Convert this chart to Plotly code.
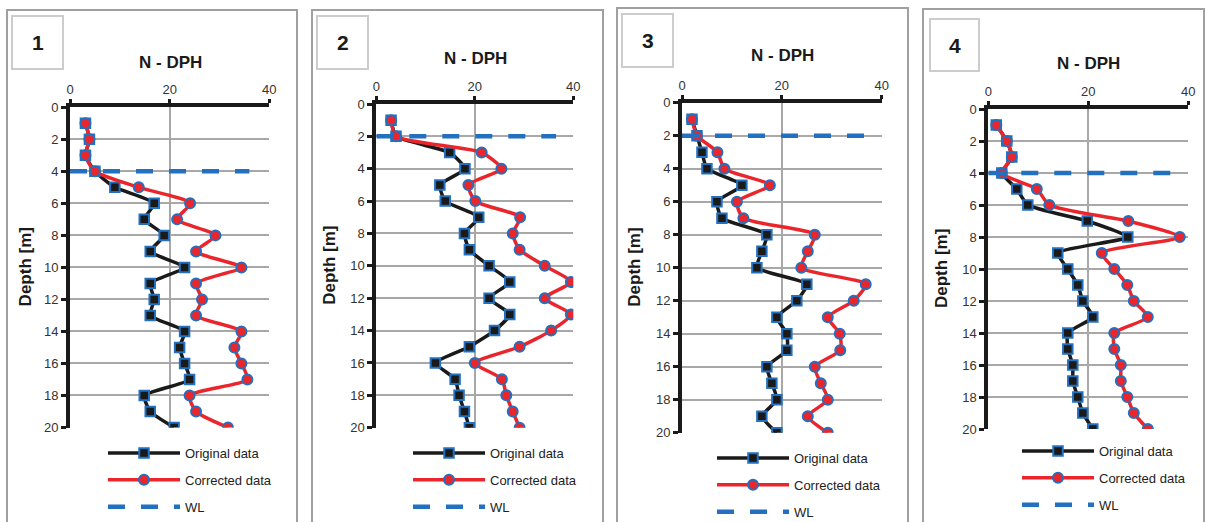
import plotly.graph_objects as go

# ---------------- data ----------------
depth = list(range(1, 21))
x_ticks = [0, 20, 40]
y_ticks = list(range(0, 21, 2))
panel_labels = ["1", "2", "3", "4"]

p1_original = [3.1, 3.9, 3.1, 5.0, 9.0, 16.9, 14.9, 18.9, 16.1, 23.0,
               16.1, 16.9, 16.1, 23.0, 22.0, 23.0, 24.0, 14.9, 16.1, 20.9]
p1_corrected = [3.1, 3.9, 3.1, 5.0, 13.8, 24.1, 21.5, 29.2, 25.3, 34.4,
                25.3, 26.5, 25.3, 34.4, 33.0, 34.4, 35.6, 24.0, 25.3, 31.7]

p2_original = [3.0, 4.0, 14.9, 18.0, 12.9, 14.0, 20.8, 17.9, 18.9, 22.9,
               27.1, 22.9, 27.1, 24.0, 18.9, 12.0, 16.0, 16.8, 17.9, 18.9]
p2_corrected = [3.0, 4.0, 21.4, 25.4, 18.7, 20.1, 29.2, 27.7, 29.1, 34.2,
                39.5, 34.2, 39.5, 35.5, 29.1, 20.0, 25.5, 26.4, 27.7, 29.1]

p3_original = [2.0, 3.0, 4.0, 5.0, 12.0, 7.0, 8.0, 17.0, 16.0, 15.0,
               25.0, 23.0, 19.0, 21.0, 21.0, 17.0, 18.0, 19.0, 16.0, 19.0]
p3_corrected = [2.0, 3.0, 7.1, 8.5, 17.6, 11.0, 12.3, 26.6, 25.2, 23.9,
                36.8, 34.4, 29.2, 31.6, 31.7, 26.6, 27.8, 29.2, 25.2, 29.2]

p4_original = [1.6, 3.7, 4.7, 2.7, 5.7, 7.9, 19.8, 27.9, 13.9, 15.9,
               17.9, 18.9, 20.9, 15.9, 15.9, 16.9, 16.9, 17.9, 18.9, 20.9]
p4_corrected = [1.6, 3.7, 4.7, 2.7, 9.7, 12.2, 28.0, 38.3, 22.7, 25.2,
                27.8, 29.1, 31.9, 25.2, 25.2, 26.5, 26.5, 27.8, 29.1, 31.9]

wl_depth = [4, 2, 2, 4]
wl_n_start = [0, 0, 0, 0]
wl_n_end = [36, 36.5, 38, 38.3]

originals = [p1_original, p2_original, p3_original, p4_original]
correcteds = [p1_corrected, p2_corrected, p3_corrected, p4_corrected]

# ---------------- layout geometry (pixels) ----------------
W, H = 1207, 522
FONT = "Arial, Liberation Sans, sans-serif"
BLACK = "#1a1a1a"
RED = "#ea252b"
BLUE = "#2270bf"
GRID = "#a8a8a8"

plot_px = [  # x0, x1, y0, y1 of plotting area
    (70, 269.3, 107.3, 427.5),
    (376.3, 573.3, 104, 427.7),
    (682, 881.7, 102.7, 432.7),
    (988.3, 1188.3, 109, 429),
]
box_px = [(7, 297, 10), (312, 603, 10), (617, 908, 8), (923, 1204, 9)]
numbox_px = [(12, 63, 16, 69), (317, 368, 16, 69), (622, 673, 14, 67), (930, 979, 19, 71)]
title_px = [(170, 62), (475, 58), (782, 55), (1088, 63)]
depth_title_x = [25, 330, 635, 941]
legend_px = [(103, 438), (408, 438), (712, 443), (1017, 436)]


def px(x):
    return x / W


def py(y):
    return 1 - y / H


fig = go.Figure()
shapes = []
annotations = []
layout_axes = {}

for i in range(4):
    n = i + 1
    sfx = "" if n == 1 else str(n)
    xa, ya = "x" + sfx, "y" + sfx
    leg = "legend" + sfx
    x0, x1, y0, y1 = plot_px[i]

    fig.add_trace(go.Scatter(
        x=originals[i], y=depth, xaxis=xa, yaxis=ya, mode="lines+markers",
        name="Original data", legend=leg, legendgroup=f"o{n}",
        line=dict(color=BLACK, width=3.5, shape="spline", smoothing=0.5),
        marker=dict(symbol="square", size=9.5, color=BLACK, line=dict(color=BLUE, width=2)),
    ))
    fig.add_trace(go.Scatter(
        x=correcteds[i], y=depth, xaxis=xa, yaxis=ya, mode="lines+markers",
        name="Corrected data", legend=leg, legendgroup=f"c{n}",
        line=dict(color=RED, width=3.5, shape="spline", smoothing=0.6),
        marker=dict(symbol="circle", size=10, color=RED, line=dict(color=BLUE, width=2)),
    ))
    fig.add_trace(go.Scatter(
        x=[wl_n_start[i], wl_n_end[i]], y=[wl_depth[i], wl_depth[i]],
        xaxis=xa, yaxis=ya, mode="lines", name="WL", legend=leg, legendgroup=f"w{n}",
        line=dict(color=BLUE, width=4.5, dash="17px,16px"),
    ))

    layout_axes["xaxis" + sfx] = dict(
        domain=[px(x0), px(x1)], range=[0, 40], side="top", anchor=ya,
        tickvals=x_ticks, showgrid=True, gridcolor=GRID, gridwidth=1.5,
        showline=True, linecolor=BLACK, linewidth=4, zeroline=False,
        ticks="outside", ticklen=4, tickwidth=3, tickcolor=BLACK,
        tickfont=dict(family=FONT, size=13, color="#333333"),
    )
    layout_axes["yaxis" + sfx] = dict(
        domain=[py(y1), py(y0)], range=[20, 0], anchor=xa,
        tickvals=y_ticks, showgrid=True, gridcolor=GRID, gridwidth=1.5,
        showline=True, linecolor=BLACK, linewidth=4, zeroline=False,
        ticks="outside", ticklen=5, tickwidth=3, tickcolor=BLACK,
        tickfont=dict(family=FONT, size=13, color="#333333"),
    )

    lx, ly = legend_px[i]
    layout_axes[leg] = dict(
        x=px(lx), y=py(ly), xanchor="left", yanchor="top",
        font=dict(family=FONT, size=13, color="#222222"),
        bgcolor="rgba(0,0,0,0)", tracegroupgap=7, itemwidth=72,
        traceorder="grouped",
    )

    bx0, bx1, by0 = box_px[i]
    shapes.append(dict(type="rect", xref="paper", yref="paper",
                       x0=px(bx0), x1=px(bx1), y0=py(by0), y1=-0.05,
                       line=dict(color="#a0a0a0", width=2), layer="below"))
    nx0, nx1, ny0, ny1 = numbox_px[i]
    shapes.append(dict(type="rect", xref="paper", yref="paper",
                       x0=px(nx0), x1=px(nx1), y0=py(ny0), y1=py(ny1),
                       line=dict(color="#cccccc", width=2), layer="below"))
    annotations.append(dict(text=f"<b>{panel_labels[i]}</b>", xref="paper", yref="paper",
                            x=px((nx0 + nx1) / 2), y=py((ny0 + ny1) / 2),
                            xanchor="center", yanchor="middle",
                            showarrow=False, font=dict(family=FONT, size=21, color="#1a1a1a")))
    tx, ty = title_px[i]
    annotations.append(dict(text="<b>N - DPH</b>", xref="paper", yref="paper",
                            x=px(tx), y=py(ty), xanchor="center", yanchor="middle",
                            showarrow=False, font=dict(family=FONT, size=17, color="#1a1a1a")))
    annotations.append(dict(text="<b>Depth [m]</b>", xref="paper", yref="paper",
                            x=px(depth_title_x[i]), y=py((y0 + y1) / 2), textangle=-90,
                            xanchor="center", yanchor="middle",
                            showarrow=False, font=dict(family=FONT, size=17, color="#1a1a1a")))

fig.update_layout(
    width=W, height=H,
    margin=dict(l=0, r=0, t=0, b=0, autoexpand=False),
    paper_bgcolor="white", plot_bgcolor="white",
    showlegend=True, shapes=shapes, annotations=annotations,
    **layout_axes,
)

fig.write_html("out.html")
